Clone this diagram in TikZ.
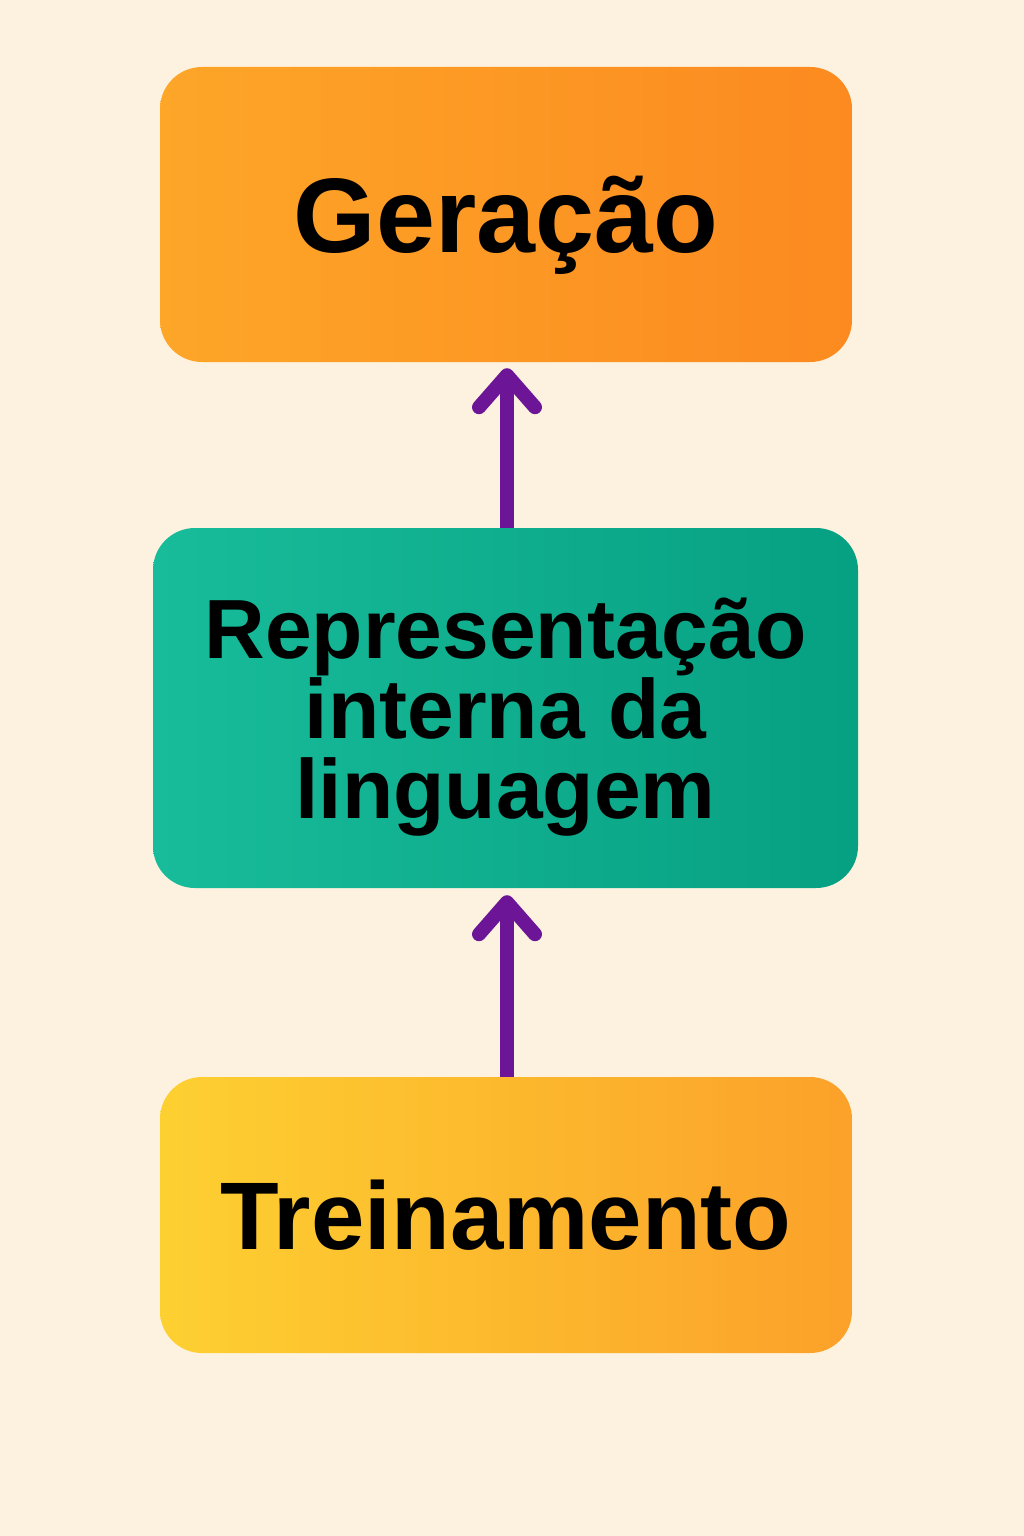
\documentclass[tikz,border=0pt]{standalone}
\usepackage{fontspec}
\setmainfont{Liberation Sans}
\usetikzlibrary{arrows.meta,calc}
\definecolor{bgc}{HTML}{FDF2DF}
\definecolor{genL}{HTML}{FDA628}
\definecolor{genR}{HTML}{FC8A20}
\definecolor{repL}{HTML}{18BC9A}
\definecolor{repR}{HTML}{06A082}
\definecolor{treL}{HTML}{FDD031}
\definecolor{treR}{HTML}{FCA12A}
\definecolor{arrowc}{HTML}{6C1596}
\tikzset{
  box/.style={rounded corners=42pt, inner sep=0pt, align=center, text=black, text depth=0pt},
  flow/.style={draw=arrowc, line width=14pt, -{Straight Barb[round,length=32pt,width=56pt]}},
}
\begin{document}
\begin{tikzpicture}[x=1pt,y=-1pt]
\fill[bgc] (0,0) rectangle (1024,1536);
\useasboundingbox (0,0) rectangle (1024,1536);
\node[box, left color=genL, right color=genR, minimum width=692pt, minimum height=295pt,
  font=\bfseries\fontsize{106}{106}\selectfont] (gen) at (506,214.5) {Geração};
\node[box, left color=repL, right color=repR, minimum width=705pt, minimum height=360pt,
  font=\bfseries\fontsize{84}{80}\selectfont] (rep) at (505.5,708) {Representação\\interna da\\linguagem};
\node[box, left color=treL, right color=treR, minimum width=692pt, minimum height=276pt,
  font=\bfseries\fontsize{96}{96}\selectfont] (tre) at (506,1215) {Treinamento};
\draw[flow] ([xshift=1.5pt]rep.north) -- ($(gen.south)+(1,6)$);
\draw[flow] ([xshift=1pt]tre.north) -- ($(rep.south)+(1.5,7)$);
\end{tikzpicture}
\end{document}
